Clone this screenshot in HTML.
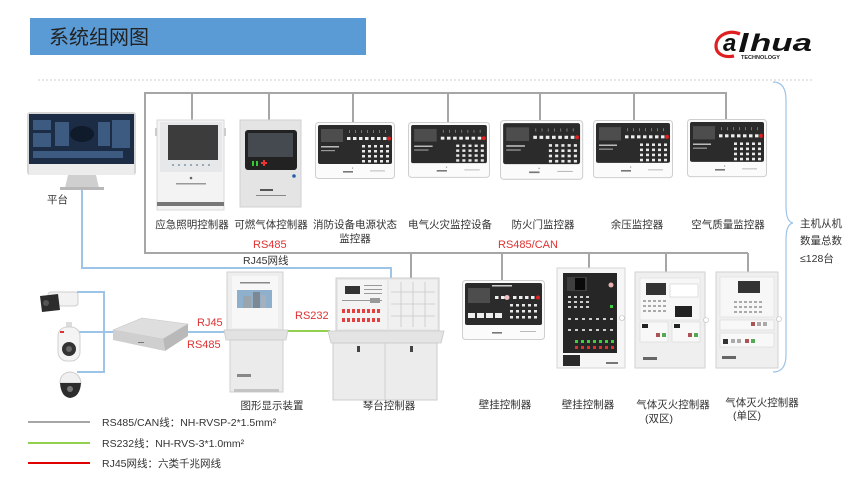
<!DOCTYPE html>
<html>
<head>
<meta charset="utf-8">
<style>
  html,body{margin:0;padding:0;background:#fff;}
  body{width:850px;height:478px;overflow:hidden;}
  svg{display:block;font-family:"Liberation Sans","Noto Sans CJK SC",sans-serif;}
  .lb{font-size:10.5px;fill:#333;}
  .rd{font-size:11px;fill:#e03232;}
</style>
</head>
<body>
<svg width="850" height="478" viewBox="0 0 850 478" xmlns="http://www.w3.org/2000/svg">
  <defs>
    <g id="pnl">
      <rect x="0.5" y="0.5" width="79" height="56" rx="3" fill="#fbfbfb" stroke="#cfcfcf"/>
      <rect x="3" y="3" width="74" height="39" rx="2" fill="#2b2b2b"/>
      <rect x="6" y="7" width="22" height="13" fill="#4d4d4d"/>
      <rect x="6" y="24" width="18" height="1.5" fill="#bbb"/>
      <rect x="6" y="28" width="14" height="1.2" fill="#999"/>
      <g fill="#888">
        <rect x="34" y="8" width="0.8" height="3"/><rect x="40" y="8" width="0.8" height="3"/><rect x="46" y="8" width="0.8" height="3"/><rect x="52" y="8" width="0.8" height="3"/><rect x="58" y="8" width="0.8" height="3"/><rect x="64" y="8" width="0.8" height="3"/><rect x="70" y="8" width="0.8" height="3"/>
      </g>
      <g fill="#eee">
        <rect x="32" y="15" width="3.5" height="3"/><rect x="38" y="15" width="3.5" height="3"/><rect x="44" y="15" width="3.5" height="3"/><rect x="50" y="15" width="3.5" height="3"/><rect x="56" y="15" width="3.5" height="3"/><rect x="62" y="15" width="3.5" height="3"/><rect x="68" y="15" width="3.5" height="3"/>
      </g>
      <circle cx="74" cy="16.5" r="2" fill="#e02020"/>
      <g fill="#e8e8e8">
        <rect x="47" y="23" width="3" height="2.5"/><rect x="53" y="23" width="3" height="2.5"/><rect x="59" y="23" width="3" height="2.5"/><rect x="65" y="23" width="3" height="2.5"/><rect x="71" y="23" width="3" height="2.5"/>
        <rect x="47" y="28" width="3" height="2.5"/><rect x="53" y="28" width="3" height="2.5"/><rect x="59" y="28" width="3" height="2.5"/><rect x="65" y="28" width="3" height="2.5"/><rect x="71" y="28" width="3" height="2.5"/>
        <rect x="47" y="33" width="3" height="2.5"/><rect x="53" y="33" width="3" height="2.5"/><rect x="59" y="33" width="3" height="2.5"/><rect x="65" y="33" width="3" height="2.5"/><rect x="71" y="33" width="3" height="2.5"/>
        <rect x="47" y="38" width="3" height="2.5"/><rect x="53" y="38" width="3" height="2.5"/><rect x="59" y="38" width="3" height="2.5"/><rect x="65" y="38" width="3" height="2.5"/><rect x="71" y="38" width="3" height="2.5"/>
      </g>
      <rect x="28" y="49" width="10" height="1.6" fill="#777"/>
      <rect x="55" y="48.5" width="15" height="0.8" fill="#aaa"/>
      <rect x="37" y="45.5" width="1.2" height="1.2" fill="#999"/>
    </g>
  </defs>

  <!-- Title bar -->
  <rect x="30" y="18" width="336" height="37" fill="#5b9bd5"/>
  <text x="49" y="44" font-size="20" fill="#222">系统组网图</text>

  <!-- Logo -->
  <path d="M740,34 C728,29 716,36 716,46 C716,54 724,58 734,56" fill="none" stroke="#e02020" stroke-width="3.2"/>
  <text x="723" y="51" font-size="24" font-weight="bold" font-style="italic" fill="#111">a</text>
  <path d="M744,33 L749,33 L744,52 L739,52 Z" fill="#111"/>
  <text x="750" y="51" font-size="24" font-weight="bold" font-style="italic" fill="#111" textLength="62" lengthAdjust="spacingAndGlyphs">hua</text>
  <text x="741" y="59" font-size="5.5" font-weight="bold" fill="#222" textLength="39" lengthAdjust="spacingAndGlyphs">TECHNOLOGY</text>

  <!-- dashed separator -->
  <line x1="38" y1="80" x2="813" y2="80" stroke="#cfcfcf" stroke-width="1" stroke-dasharray="2 2"/>

  <!-- gray bus -->
  <g stroke="#a6a6a6" stroke-width="2" fill="none">
    <path d="M727,93 L145,93 L145,253 L748,253"/>
    <path d="M192,93V120 M269,93V120 M353,93V122 M448,93V122 M540,93V120 M634,93V120 M726,93V119"/>
    <path d="M411,253V278 M502,253V280 M589,253V268 M666,253V272 M748,253V272"/>
  </g>

  <!-- blue lines -->
  <g stroke="#9dc3e6" stroke-width="2" fill="none">
    <path d="M82,190 L82,268 L391,268 L391,278"/>
    <path d="M77,292 L104,292 L104,372 L77,372"/>
    <path d="M77,332 L113,332"/>
    <path d="M188,332 L228,332"/>
  </g>
  <!-- green -->
  <line x1="286" y1="331" x2="330" y2="331" stroke="#92d050" stroke-width="2"/>

  <!-- brace -->
  <path d="M773,82 Q786,82 786,100 L786,206 Q786,222 793,223 Q786,224 786,240 L786,355 Q786,372 773,372" fill="none" stroke="#9dc3e6" stroke-width="1.2"/>

  <!-- Monitor (平台) -->
  <rect x="27" y="112" width="109" height="63" rx="3" fill="#d6d6d6"/>
  <rect x="29" y="114" width="105" height="50" fill="#1c2c44"/>
  <g fill="#3d5a80">
    <rect x="33" y="120" width="18" height="10"/><rect x="33" y="133" width="18" height="14"/>
    <rect x="55" y="122" width="14" height="24"/><rect x="98" y="122" width="12" height="24"/>
    <rect x="112" y="120" width="18" height="28"/>
    <rect x="33" y="151" width="90" height="7"/>
  </g>
  <ellipse cx="82" cy="134" rx="12" ry="8" fill="#0f1a2a"/>
  <rect x="29" y="164" width="105" height="11" fill="#ececec"/>
  <polygon points="68,175 96,175 99,188 65,188" fill="#cfcfcf"/>
  <rect x="60" y="187" width="44" height="3" fill="#b8b8b8"/>
  <text class="lb" x="47" y="203">平台</text>

  <!-- 应急照明控制器 -->
  <rect x="157" y="120" width="67" height="90" fill="#f3f3f3" stroke="#dadada"/>
  <rect x="160" y="122" width="62" height="50" fill="#e6e8ea"/>
  <rect x="168" y="125" width="50" height="35" fill="#3c3c3c"/>
  <g fill="#9ab">
    <rect x="172" y="164" width="2" height="2"/><rect x="178" y="164" width="2" height="2"/><rect x="184" y="164" width="2" height="2"/><rect x="190" y="164" width="2" height="2"/><rect x="196" y="164" width="2" height="2"/><rect x="202" y="164" width="2" height="2"/><rect x="208" y="164" width="2" height="2"/>
  </g>
  <circle cx="191" cy="178" r="1.3" fill="#666"/>
  <rect x="176" y="183" width="30" height="1.5" fill="#999"/>
  <rect x="157" y="202" width="67" height="4" fill="#777"/>
  <rect x="155" y="128" width="2" height="8" fill="#ccc"/><rect x="224" y="128" width="2" height="8" fill="#ccc"/>

  <!-- 可燃气体控制器 -->
  <rect x="240" y="120" width="61" height="87" fill="#e4e4e4" stroke="#d0d0d0"/>
  <rect x="245" y="130" width="52" height="40" rx="3" fill="#222"/>
  <rect x="248" y="133" width="45" height="24" fill="#454a50"/>
  <rect x="252" y="161" width="2" height="5" fill="#3c3"/><rect x="256" y="161" width="2" height="5" fill="#3c3"/>
  <rect x="261" y="162" width="6" height="2" fill="#e33"/><rect x="263" y="160" width="2" height="6" fill="#e33"/>
  <circle cx="294" cy="176" r="1.8" fill="#2a5db0"/>
  <rect x="260" y="189" width="13" height="2" fill="#555"/>
  <rect x="256" y="195" width="30" height="1" fill="#888"/>

  <!-- top row panels -->
  <use href="#pnl" transform="translate(315,122)"/>
  <use href="#pnl" transform="translate(408,122) scale(1.025,0.98)"/>
  <use href="#pnl" transform="translate(500,120) scale(1.04,1.05)"/>
  <use href="#pnl" transform="translate(593,120) scale(1,1.02)"/>
  <use href="#pnl" transform="translate(687,119) scale(1,1.02)"/>

  <!-- top labels -->
  <text class="lb" x="192" y="228" text-anchor="middle">应急照明控制器</text>
  <text class="lb" x="271" y="228" text-anchor="middle">可燃气体控制器</text>
  <text class="lb" x="355" y="228" text-anchor="middle">消防设备电源状态</text>
  <text class="lb" x="355" y="242" text-anchor="middle">监控器</text>
  <text class="lb" x="450" y="228" text-anchor="middle">电气火灾监控设备</text>
  <text class="lb" x="543" y="228" text-anchor="middle">防火门监控器</text>
  <text class="lb" x="637" y="228" text-anchor="middle">余压监控器</text>
  <text class="lb" x="728" y="228" text-anchor="middle">空气质量监控器</text>

  <text class="rd" x="253" y="248">RS485</text>
  <text class="lb" x="243" y="264">RJ45网线</text>
  <text class="rd" x="498" y="248">RS485/CAN</text>

  <text class="lb" x="800" y="227">主机从机</text>
  <text class="lb" x="800" y="244">数量总数</text>
  <text class="lb" x="800" y="262">≤128台</text>

  <!-- Cameras -->
  <rect x="48" y="292" width="30" height="14" rx="3" fill="#f2f2f2" stroke="#cfcfcf"/>
  <path d="M40,296 L58,294 L60,310 L42,312 Z" fill="#2c2c2c"/>
  <circle cx="46" cy="303" r="3" fill="#555"/>
  <rect x="66" y="322" width="6" height="5" fill="#ddd"/>
  <rect x="58" y="327" width="22" height="34" rx="9" fill="#f4f4f4" stroke="#cfcfcf"/>
  <rect x="60" y="331" width="4" height="2" fill="#d33"/>
  <circle cx="69" cy="349" r="7" fill="#333"/>
  <circle cx="69" cy="349" r="3" fill="#666"/>
  <path d="M60,383 Q60,373 70,372 Q80,373 81,383 Z" fill="#f0f0f0" stroke="#cfcfcf"/>
  <path d="M60,383 L81,383 Q80,397 70,398 Q61,397 60,383 Z" fill="#2d2d2d"/>
  <circle cx="70" cy="389" r="3" fill="#777"/>

  <!-- NVR -->
  <polygon points="113,330 142,318 188,324 163,339" fill="#dedede" stroke="#c4c4c4" stroke-width="0.6"/>
  <polygon points="163,339 188,324 188,336 165,351" fill="#b9b9b9"/>
  <polygon points="113,330 163,339 165,351 113,340" fill="#cfcfcf"/>
  <rect x="138" y="342" width="6" height="1" fill="#777"/>

  <text class="rd" x="197" y="326">RJ45</text>
  <text class="rd" x="187" y="348">RS485</text>
  <text class="rd" x="295" y="319">RS232</text>

  <!-- 图形显示装置 -->
  <rect x="227" y="272" width="56" height="58" fill="#eeeeee" stroke="#d0d0d0"/>
  <rect x="232" y="276" width="46" height="52" fill="#f7f7f7"/>
  <rect x="240" y="282" width="30" height="1.5" fill="#888"/>
  <rect x="237" y="290" width="35" height="18" fill="#8fb0cc"/>
  <rect x="243" y="296" width="8" height="12" fill="#9aa4ad"/>
  <rect x="253" y="292" width="7" height="16" fill="#7d8893"/>
  <rect x="261" y="295" width="5" height="13" fill="#a7b0b8"/>
  <polygon points="224,330 288,330 286,340 226,340" fill="#e2e2e2" stroke="#cacaca" stroke-width="0.8"/>
  <rect x="230" y="340" width="53" height="52" fill="#ebebeb" stroke="#cfcfcf"/>
  <rect x="237" y="374" width="14" height="3" fill="#888"/>
  <rect x="234" y="389" width="45" height="3" fill="#c4c4c4"/>
  <text class="lb" x="272" y="409" text-anchor="middle">图形显示装置</text>

  <!-- 琴台控制器 -->
  <rect x="336" y="278" width="103" height="53" fill="#e8e8e8" stroke="#cccccc"/>
  <rect x="338" y="280" width="49" height="49" fill="#f3f3f3"/>
  <rect x="345" y="286" width="15" height="8" fill="#333"/>
  <g fill="#999">
    <rect x="364" y="285" width="18" height="1"/><rect x="364" y="289" width="18" height="1"/><rect x="364" y="293" width="18" height="1"/><rect x="342" y="300" width="40" height="1"/><rect x="370" y="298" width="10" height="5"/>
  </g>
  <g fill="#e04040">
    <rect x="342" y="309" width="3" height="4"/><rect x="347" y="309" width="3" height="4"/><rect x="352" y="309" width="3" height="4"/><rect x="357" y="309" width="3" height="4"/><rect x="362" y="309" width="3" height="4"/><rect x="367" y="309" width="3" height="4"/><rect x="372" y="309" width="3" height="4"/><rect x="377" y="309" width="3" height="4"/>
    <rect x="342" y="318" width="3" height="4"/><rect x="347" y="318" width="3" height="4"/><rect x="352" y="318" width="3" height="4"/><rect x="357" y="318" width="3" height="4"/><rect x="362" y="318" width="3" height="4"/><rect x="367" y="318" width="3" height="4"/><rect x="372" y="318" width="3" height="4"/><rect x="377" y="318" width="3" height="4"/>
  </g>
  <rect x="389" y="280" width="48" height="49" fill="#f0f0f0"/>
  <g stroke="#c8c8c8" stroke-width="0.8">
    <line x1="401" y1="282" x2="401" y2="327"/><line x1="413" y1="282" x2="413" y2="327"/><line x1="425" y1="282" x2="425" y2="327"/>
    <line x1="391" y1="292" x2="435" y2="292"/><line x1="391" y1="304" x2="435" y2="304"/><line x1="391" y1="316" x2="435" y2="316"/>
  </g>
  <polygon points="328,331 444,331 441,343 331,343" fill="#e4e4e4" stroke="#c8c8c8" stroke-width="0.8"/>
  <rect x="333" y="343" width="104" height="57" fill="#ececec" stroke="#cccccc"/>
  <line x1="385" y1="343" x2="385" y2="400" stroke="#cfcfcf"/>
  <rect x="357" y="346" width="3" height="6" fill="#444"/>
  <rect x="410" y="346" width="3" height="6" fill="#444"/>
  <text class="lb" x="389" y="409" text-anchor="middle">琴台控制器</text>

  <!-- 壁挂控制器 1 -->
  <g transform="translate(462,280)">
    <rect x="0.5" y="0.5" width="82" height="59" rx="3" fill="#fbfbfb" stroke="#cfcfcf"/>
    <rect x="3" y="3" width="77" height="42" rx="2" fill="#2b2b2b"/>
    <rect x="6" y="8" width="22" height="15" fill="#4d4d4d"/>
    <rect x="30" y="5" width="20" height="1.5" fill="#ccc"/>
    <g fill="#eee">
      <rect x="33" y="16" width="3.5" height="3"/><rect x="39" y="16" width="3.5" height="3"/><rect x="51" y="16" width="3.5" height="3"/><rect x="57" y="16" width="3.5" height="3"/><rect x="63" y="16" width="3.5" height="3"/><rect x="69" y="16" width="3.5" height="3"/>
    </g>
    <circle cx="45" cy="17.5" r="2.5" fill="#f0c0c0"/>
    <circle cx="76" cy="17.5" r="2" fill="#e02020"/>
    <g fill="#eee">
      <rect x="6" y="33" width="7" height="5"/><rect x="15" y="33" width="7" height="5"/><rect x="24" y="33" width="7" height="5"/><rect x="33" y="33" width="7" height="5"/>
    </g>
    <g fill="#e8e8e8">
      <rect x="48" y="24" width="3" height="2.5"/><rect x="54" y="24" width="3" height="2.5"/><rect x="60" y="24" width="3" height="2.5"/><rect x="66" y="24" width="3" height="2.5"/><rect x="72" y="24" width="3" height="2.5"/>
      <rect x="48" y="30" width="3" height="2.5"/><rect x="54" y="30" width="3" height="2.5"/><rect x="60" y="30" width="3" height="2.5"/><rect x="66" y="30" width="3" height="2.5"/><rect x="72" y="30" width="3" height="2.5"/>
      <rect x="48" y="36" width="3" height="2.5"/><rect x="54" y="36" width="3" height="2.5"/><rect x="60" y="36" width="3" height="2.5"/><rect x="66" y="36" width="3" height="2.5"/><rect x="72" y="36" width="3" height="2.5"/>
    </g>
    <rect x="30" y="52" width="10" height="1.6" fill="#777"/>
    <rect x="58" y="51" width="16" height="0.8" fill="#aaa"/>
  </g>
  <text class="lb" x="505" y="408" text-anchor="middle">壁挂控制器</text>

  <!-- 壁挂控制器 2 -->
  <rect x="557" y="268" width="68" height="100" fill="#f6f6f6" stroke="#d6d6d6"/>
  <rect x="563" y="273" width="54" height="80" fill="#262626"/>
  <rect x="567" y="277" width="20" height="14" fill="#3f3f3f"/>
  <rect x="575" y="278" width="10" height="12" fill="#0a0a0a"/>
  <g fill="#ccc">
    <rect x="568" y="296" width="3" height="2"/><rect x="574" y="296" width="3" height="2"/><rect x="580" y="296" width="3" height="2"/><rect x="586" y="296" width="3" height="2"/>
    <rect x="568" y="301" width="3" height="2"/><rect x="574" y="301" width="3" height="2"/><rect x="580" y="301" width="3" height="2"/><rect x="586" y="301" width="3" height="2"/>
    <rect x="568" y="306" width="3" height="2"/><rect x="574" y="306" width="3" height="2"/><rect x="580" y="306" width="3" height="2"/><rect x="586" y="306" width="3" height="2"/>
    <rect x="568" y="318" width="3" height="2"/><rect x="575" y="318" width="3" height="2"/><rect x="582" y="318" width="3" height="2"/><rect x="589" y="318" width="3" height="2"/><rect x="596" y="318" width="3" height="2"/><rect x="603" y="318" width="3" height="2"/><rect x="610" y="318" width="3" height="2"/>
    <rect x="568" y="329" width="3" height="2"/><rect x="575" y="329" width="3" height="2"/><rect x="582" y="329" width="3" height="2"/><rect x="589" y="329" width="3" height="2"/><rect x="596" y="329" width="3" height="2"/><rect x="603" y="329" width="3" height="2"/><rect x="610" y="329" width="3" height="2"/>
  </g>
  <circle cx="611" cy="285" r="2.5" fill="#e9b0b0"/>
  <g fill="#3fcf3f">
    <rect x="575" y="340" width="3" height="3"/><rect x="581" y="340" width="3" height="3"/><rect x="587" y="340" width="3" height="3"/><rect x="593" y="340" width="3" height="3"/><rect x="599" y="340" width="3" height="3"/><rect x="605" y="340" width="3" height="3"/><rect x="611" y="340" width="3" height="3"/>
    <rect x="610" y="305" width="3" height="3"/>
  </g>
  <g fill="#e03030">
    <rect x="575" y="346" width="3" height="3"/><rect x="581" y="346" width="3" height="3"/><rect x="587" y="346" width="3" height="3"/><rect x="593" y="346" width="3" height="3"/><rect x="599" y="346" width="3" height="3"/><rect x="605" y="346" width="3" height="3"/><rect x="611" y="346" width="3" height="3"/>
  </g>
  <rect x="563" y="355" width="17" height="11" fill="#2a2a2a"/>
  <rect x="606" y="362" width="12" height="2" fill="#777"/>
  <circle cx="622" cy="318" r="2.5" fill="#fff" stroke="#bbb" stroke-width="0.6"/>
  <text class="lb" x="588" y="408" text-anchor="middle">壁挂控制器</text>

  <!-- 气体灭火控制器(双区) -->
  <rect x="635" y="272" width="70" height="96" fill="#efefef" stroke="#d2d2d2"/>
  <rect x="640" y="278" width="60" height="42" fill="#f7f7f7" stroke="#dcdcdc" stroke-width="0.6"/>
  <rect x="646" y="283" width="20" height="12" fill="#333"/>
  <rect x="670" y="284" width="28" height="13" fill="#fff" stroke="#ccc" stroke-width="0.6"/>
  <g fill="#aaa">
    <rect x="643" y="300" width="3" height="2"/><rect x="648" y="300" width="3" height="2"/><rect x="653" y="300" width="3" height="2"/><rect x="658" y="300" width="3" height="2"/><rect x="663" y="300" width="3" height="2"/>
    <rect x="643" y="305" width="3" height="2"/><rect x="648" y="305" width="3" height="2"/><rect x="653" y="305" width="3" height="2"/><rect x="658" y="305" width="3" height="2"/><rect x="663" y="305" width="3" height="2"/>
    <rect x="643" y="310" width="3" height="2"/><rect x="648" y="310" width="3" height="2"/><rect x="653" y="310" width="3" height="2"/><rect x="658" y="310" width="3" height="2"/><rect x="663" y="310" width="3" height="2"/>
  </g>
  <rect x="675" y="306" width="17" height="11" fill="#222"/>
  <rect x="640" y="322" width="28" height="20" fill="#f8f8f8" stroke="#d8d8d8" stroke-width="0.6"/>
  <rect x="672" y="322" width="28" height="20" fill="#f8f8f8" stroke="#d8d8d8" stroke-width="0.6"/>
  <rect x="642" y="324" width="6" height="4" fill="#222"/><rect x="674" y="324" width="6" height="4" fill="#222"/>
  <rect x="656" y="333" width="4" height="4" fill="#a55"/><rect x="662" y="333" width="4" height="4" fill="#5a5"/>
  <rect x="688" y="333" width="4" height="4" fill="#a55"/><rect x="694" y="333" width="4" height="4" fill="#5a5"/>
  <rect x="643" y="357" width="14" height="3" fill="#666"/>
  <circle cx="706" cy="320" r="2.5" fill="#fff" stroke="#bbb" stroke-width="0.6"/>
  <text class="lb" x="673" y="408" text-anchor="middle">气体灭火控制器</text>
  <text class="lb" x="645" y="422">(双区)</text>

  <!-- 气体灭火控制器(单区) -->
  <rect x="716" y="272" width="62" height="96" fill="#efefef" stroke="#d2d2d2"/>
  <rect x="720" y="277" width="54" height="40" fill="#f7f7f7" stroke="#dcdcdc" stroke-width="0.6"/>
  <rect x="738" y="281" width="22" height="12" fill="#333"/>
  <g fill="#aaa">
    <rect x="734" y="301" width="3" height="2"/><rect x="739" y="301" width="3" height="2"/><rect x="744" y="301" width="3" height="2"/><rect x="749" y="301" width="3" height="2"/><rect x="754" y="301" width="3" height="2"/><rect x="759" y="301" width="3" height="2"/>
    <rect x="734" y="306" width="3" height="2"/><rect x="739" y="306" width="3" height="2"/><rect x="744" y="306" width="3" height="2"/><rect x="749" y="306" width="3" height="2"/><rect x="754" y="306" width="3" height="2"/><rect x="759" y="306" width="3" height="2"/>
    <rect x="734" y="311" width="3" height="2"/><rect x="739" y="311" width="3" height="2"/><rect x="744" y="311" width="3" height="2"/><rect x="749" y="311" width="3" height="2"/><rect x="754" y="311" width="3" height="2"/><rect x="759" y="311" width="3" height="2"/>
  </g>
  <rect x="720" y="320" width="54" height="10" fill="#f8f8f8" stroke="#d8d8d8" stroke-width="0.6"/>
  <rect x="751" y="322" width="4" height="4" fill="#a55"/><rect x="757" y="322" width="4" height="4" fill="#aaa"/><rect x="763" y="322" width="4" height="4" fill="#aaa"/>
  <rect x="720" y="333" width="54" height="14" fill="#f8f8f8" stroke="#d8d8d8" stroke-width="0.6"/>
  <rect x="723" y="339" width="5" height="5" fill="#333"/>
  <rect x="731" y="339" width="4" height="4" fill="#aaa"/><rect x="737" y="339" width="4" height="4" fill="#aaa"/><rect x="745" y="339" width="4" height="4" fill="#a55"/><rect x="751" y="339" width="4" height="4" fill="#5a5"/>
  <rect x="722" y="356" width="14" height="3" fill="#666"/>
  <circle cx="779" cy="319" r="2.5" fill="#fff" stroke="#bbb" stroke-width="0.6"/>
  <text class="lb" x="762" y="406" text-anchor="middle">气体灭火控制器</text>
  <text class="lb" x="733" y="419">(单区)</text>

  <!-- Legend -->
  <line x1="28" y1="422" x2="90" y2="422" stroke="#a6a6a6" stroke-width="2"/>
  <text class="lb" x="102" y="426">RS485/CAN线：NH-RVSP-2*1.5mm²</text>
  <line x1="28" y1="443" x2="90" y2="443" stroke="#92d050" stroke-width="2"/>
  <text class="lb" x="102" y="447">RS232线：NH-RVS-3*1.0mm²</text>
  <line x1="28" y1="463" x2="90" y2="463" stroke="#e00000" stroke-width="2"/>
  <text class="lb" x="102" y="467">RJ45网线：六类千兆网线</text>
</svg>
</body>
</html>
